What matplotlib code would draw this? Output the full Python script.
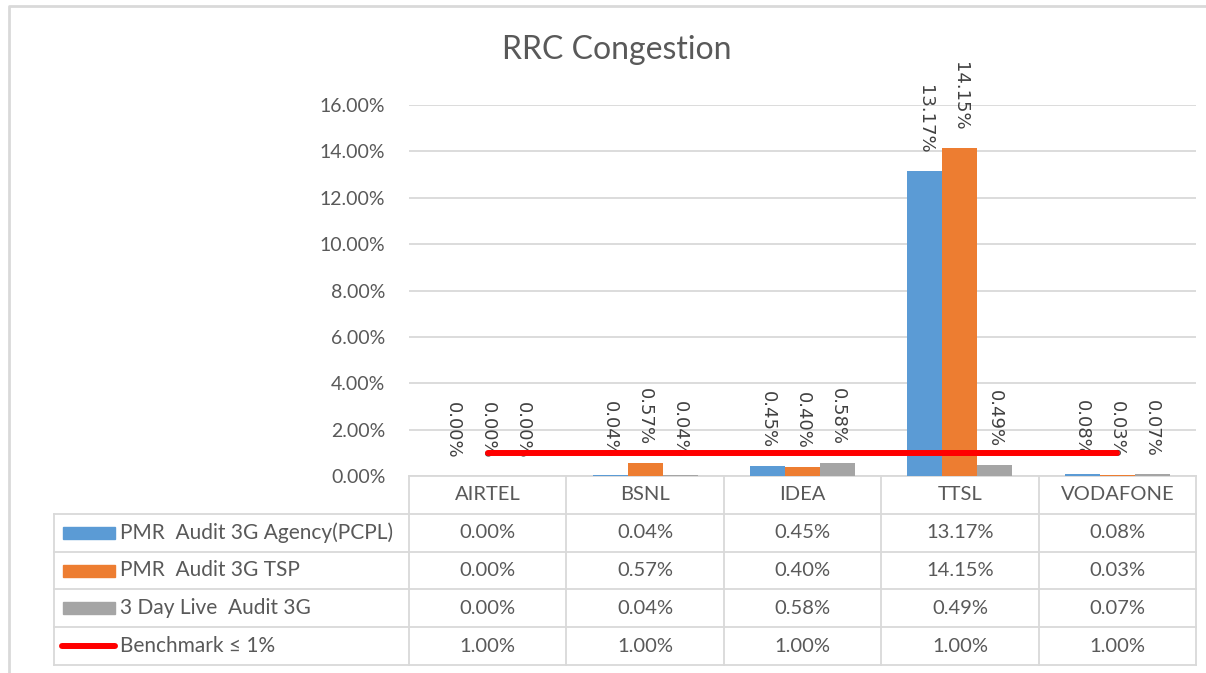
import numpy as np
import matplotlib.pyplot as plt
from matplotlib.patches import Rectangle

# --- Data (values in %) ---
operators = ['AIRTEL', 'BSNL', 'IDEA', 'TTSL', 'VODAFONE']
agency = [0.00, 0.04, 0.45, 13.17, 0.08]
tsp = [0.00, 0.57, 0.40, 14.15, 0.03]
live = [0.00, 0.04, 0.58, 0.49, 0.07]
benchmark = [1.00, 1.00, 1.00, 1.00, 1.00]
series_names = ['PMR  Audit 3G Agency(PCPL)', 'PMR  Audit 3G TSP',
                '3 Day Live  Audit 3G', 'Benchmark ≤ 1%']
y_ticks = [0, 2, 4, 6, 8, 10, 12, 14, 16]

# --- Style ---
BLUE, ORANGE, GRAY, RED = '#5B9BD5', '#ED7D31', '#A5A5A5', '#FF0000'
TXT = '#595959'
GRID = '#D9D9D9'
plt.rcParams['font.family'] = ['Lato', 'DejaVu Sans']

W, H = 1206, 673
fig = plt.figure(figsize=(W / 100, H / 100), dpi=100)

# background axes in pixel coords for border + data table
bg = fig.add_axes([0, 0, 1, 1])
bg.set_xlim(0, W)
bg.set_ylim(H, 0)
bg.axis('off')
bg.plot([9, 9, W], [H, 6, 6], color=GRID, lw=2, solid_capstyle='butt')

# chart area
px_left, px_right, px_top, px_bottom = 409, 1196, 105, 476
ax = fig.add_axes([px_left / W, 1 - px_bottom / H,
                   (px_right - px_left) / W, (px_bottom - px_top) / H])
ax.patch.set_alpha(0)
x = np.arange(len(operators))
w = 0.222
ax.set_xlim(-0.5, len(operators) - 0.5)
ax.set_ylim(0, 16)
ax.set_yticks(y_ticks)
ax.set_yticklabels([f'{v:.2f}%' for v in y_ticks])
ax.set_xticks([])
ax.tick_params(axis='y', length=0, pad=17, labelsize=14, labelcolor=TXT)
ax.yaxis.grid(True, color=GRID, lw=1.3)
ax.set_axisbelow(True)
for s in ax.spines.values():
    s.set_visible(False)

for k, (vals, col) in enumerate([(agency, BLUE), (tsp, ORANGE), (live, GRAY)]):
    xs = x + (k - 1) * w
    ax.bar(xs, vals, w, color=col, zorder=2)
    for xi, v in zip(xs, vals):
        ax.annotate(f'{v:.2f}%', (xi, v), xytext=(0, 12.5), textcoords='offset points',
                    rotation=270, ha='center', va='bottom', fontsize=13,
                    color='#404040', family='DejaVu Sans', clip_on=False)

ax.plot(x, benchmark, color=RED, lw=4.3, solid_capstyle='round', zorder=3)

fig.text(617 / W, 1 - 50 / H, 'RRC Congestion', ha='center', va='center',
         fontsize=23, color=TXT)

# --- data table ---
leg_left = 54
col_w = (px_right - px_left) / len(operators)
row_h = (665 - px_bottom) / 5
row_y = [px_bottom + i * row_h for i in range(6)]

# horizontal lines
bg.plot([px_left, px_right], [row_y[0], row_y[0]], color=GRID, lw=1.3)
for yy in row_y[1:]:
    bg.plot([leg_left, px_right], [yy, yy], color=GRID, lw=1.3)
# vertical lines
for i in range(len(operators) + 1):
    xx = px_left + i * col_w
    bg.plot([xx, xx], [row_y[0], row_y[-1]], color=GRID, lw=1.3)
bg.plot([leg_left, leg_left], [row_y[1], row_y[-1]], color=GRID, lw=1.3)

# header
for i, name in enumerate(operators):
    bg.text(px_left + (i + 0.5) * col_w, (row_y[0] + row_y[1]) / 2, name,
            ha='center', va='center', fontsize=14.5, color=TXT)

rows = [agency, tsp, live, benchmark]
colors = [BLUE, ORANGE, GRAY, RED]
for r, (vals, col, name) in enumerate(zip(rows, colors, series_names)):
    cy = (row_y[r + 1] + row_y[r + 2]) / 2
    if r < 3:
        bg.add_patch(Rectangle((63, cy - 6), 52, 12, color=col))
    else:
        bg.plot([62, 115], [cy, cy], color=col, lw=4.3, solid_capstyle='round')
    bg.text(120, cy, name, ha='left', va='center', fontsize=15, color=TXT)
    for i, v in enumerate(vals):
        bg.text(px_left + (i + 0.5) * col_w, cy, f'{v:.2f}%',
                ha='center', va='center', fontsize=14.5, color=TXT)

fig.savefig('out.png', dpi=100)
